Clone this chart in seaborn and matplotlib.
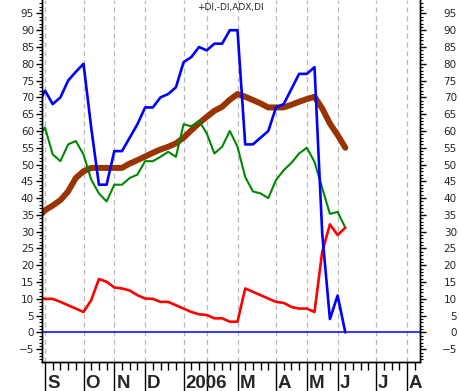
import numpy as np
import pandas as pd
import matplotlib
matplotlib.use("Agg")
import matplotlib.pyplot as plt
import seaborn as sns

# =======================
# Data (weekly points, week 0 = first week of September 2005)
# =======================
weeks = list(range(-1, 40))

plus_di = [67.5, 72, 68, 70, 75, 77.6, 80, 61, 44, 44, 54, 54, 58, 62, 67, 67,
           70, 71, 73, 80.5, 82, 85, 84, 86, 86, 90, 90, 56, 56, 58, 60, 67,
           68, 72.5, 77, 77, 79, 29.5, 4, 11, 0]
dx_green = [57.7, 61, 53, 51, 56, 57, 53, 45.5, 41.4, 39, 44, 44, 46, 47, 51, 51,
            52.3, 53.8, 52.3, 62, 61.4, 63, 59.3, 53.3, 55.3, 60, 55.3, 46.3, 42,
            41.4, 40, 45.4, 48.3, 50.5, 53.3, 55, 50.8, 43, 35.3, 35.9, 31.2]
minus_di = [10.6, 10, 10, 9.1, 8.1, 7.1, 6.1, 9.6, 15.9, 15.1, 13.4, 13.1, 12.5,
            11.1, 10.1, 10, 9.1, 9.1, 8.1, 7.1, 6.1, 5.4, 5.2, 4.2, 4.2, 3.2, 3.2,
            13.1, 12.1, 11.1, 10.1, 9.1, 8.8, 7.6, 7.1, 7.1, 6.1, 24, 32.2, 29, 31.2]
adx = [34, 36.4, 37.8, 39.4, 42, 46, 48, 49, 49, 49, 49, 49, 50.3, 51.3, 52.4,
       53.5, 54.5, 55.3, 56.3, 58, 60.2, 62.3, 64.2, 66, 67.2, 69.3, 71, 70.2,
       69.2, 68.2, 67, 67, 67, 67.8, 68.7, 69.5, 70.2, 66.7, 62.2, 58.8, 55]

# month starts (in weeks) and their labels
month_weeks = [0, 5, 9, 13, 18, 21, 25, 30, 34, 38, 43, 47]
month_labels = ["S", "O", "N", "D", "2006", "", "M", "A", "M", "J", "J", "A"]

title = "+DI,-DI,ADX,DI"

df = pd.DataFrame({"week": weeks, "pdi": plus_di, "green": dx_green,
                   "mdi": minus_di, "adx": adx})

# =======================
# Plot
# =======================
sns.set_style("white")
plt.rcParams["font.family"] = ["DejaVu Sans"]

fig = plt.figure(figsize=(4.6, 3.91), dpi=100)
ax = fig.add_axes([41.7 / 460, 29 / 391, (420 - 41.7) / 460, 362 / 391])

sns.lineplot(data=df, x="week", y="adx", color="#993300", linewidth=4.3, ax=ax, sort=False)
sns.lineplot(data=df, x="week", y="green", color="#008800", linewidth=1.5, ax=ax, sort=False)
sns.lineplot(data=df, x="week", y="mdi", color="#ff0000", linewidth=1.9, ax=ax, sort=False)
sns.lineplot(data=df, x="week", y="pdi", color="#0000ff", linewidth=1.9, ax=ax, sort=False)
ax.axhline(0, color="#0000ff", linewidth=1.1)

ax.set_xlim(-0.43, 48.7)
ax.set_ylim(-8.8, 99)
ax.set_xlabel("")
ax.set_ylabel("")

# x axis: long month ticks, short weekly ticks, dashed month grid
ax.set_xticks(month_weeks)
ax.set_xticklabels([])
ax.set_xticks(np.arange(0, 49), minor=True)
ax.tick_params(axis="x", which="major", direction="out", length=21, width=1, color="black", bottom=True)
ax.tick_params(axis="x", which="minor", direction="out", length=5.5, width=1, color="black", bottom=True)
ax.xaxis.grid(True, which="major", color="#b8b8b8", linestyle=(0, (4, 3)), linewidth=0.9)
for w, lab in zip(month_weeks, month_labels):
    ax.annotate(lab, xy=(w, 0), xycoords=("data", "axes fraction"),
                xytext=(2, -26), textcoords="offset pixels",
                ha="left", va="baseline", fontsize=13.5, fontweight="bold",
                family="Liberation Sans")

# y axis on both sides
yt = np.arange(-5, 100, 5)
ax.set_yticks(yt)
ax.set_yticks(np.arange(-8, 99, 1), minor=True)
ax.tick_params(axis="y", which="major", direction="out", length=4.5, width=1,
               color="black", left=True, labelsize=7.5, pad=1)
ax.tick_params(axis="y", which="minor", direction="out", length=2.2, width=0.8,
               color="black", left=True)

ax2 = ax.twinx()
ax2.set_ylim(ax.get_ylim())
ax2.set_yticks(yt)
ax2.set_yticks(np.arange(-8, 99, 1), minor=True)
ax2.tick_params(axis="y", which="major", direction="out", length=4.5, width=1,
                color="black", right=True, labelsize=7.5, pad=22)
ax2.tick_params(axis="y", which="minor", direction="out", length=2.2, width=0.8,
                color="black", right=True)
for lbl in ax2.get_yticklabels():
    lbl.set_horizontalalignment("right")

for a in (ax, ax2):
    a.spines["top"].set_visible(False)
    for s in ("left", "right", "bottom"):
        a.spines[s].set_color("black")
        a.spines[s].set_linewidth(1)

ax.text(0.498, 0.978, title, transform=ax.transAxes, ha="center", va="center", fontsize=6.5)

plt.savefig("out.png", dpi=100)
